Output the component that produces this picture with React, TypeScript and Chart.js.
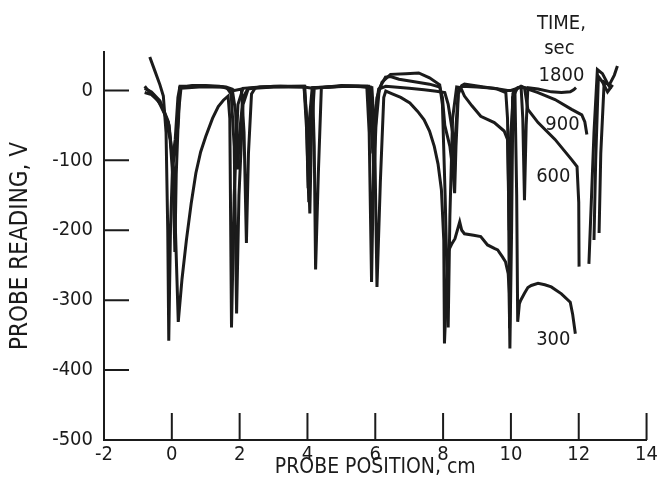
import React, { useEffect, useRef } from 'react';
import { Chart, registerables } from 'chart.js';

Chart.register(...registerables);

const FONT = "'Liberation Sans Narrow', 'DejaVu Sans Condensed', 'Arial Narrow', sans-serif";
const INK = '#1b1b1b';

// axis ticks
const xTickMarks = [0, 2, 4, 6, 8, 10, 12, 14];
const yTickMarks = [-400, -300, -200, -100, 0];

// ---- series: 300 sec ----
const t300X = [-0.8, -0.6, -0.35, -0.1, 0.05, 0.19, 0.3, 0.43, 0.57, 0.71, 0.85, 1.0, 1.2, 1.37, 1.52, 1.66, 1.71, 1.76, 1.84, 1.95, 2.1, 2.6, 3.2, 3.9, 4.15, 4.2, 4.24, 4.32, 4.41, 5.0, 5.5, 5.9, 5.98, 6.05, 6.15, 6.25, 6.31, 6.5, 6.75, 7.02, 7.25, 7.44, 7.6, 7.74, 7.85, 7.95, 8.02, 8.04, 8.1, 8.15, 8.25, 8.35, 8.45, 8.49, 8.55, 8.63, 8.9, 9.11, 9.31, 9.51, 9.61, 9.75, 9.84, 9.92, 9.95, 9.97, 10.02, 10.06, 10.12, 10.17, 10.2, 10.25, 10.29, 10.4, 10.5, 10.6, 10.8, 11.0, 11.19, 11.49, 11.75, 11.82, 11.9];
const t300Y = [3, -2, -15, -45, -110, -331, -270, -214, -162, -118, -88, -66, -40, -23, -14, -8, -40, -339, -150, -20, 3, 5, 6, 5, 3, -80, -256, -120, 4, 6, 6, 4, -60, -281, -130, -10, -1, -5, -10, -18, -30, -42, -58, -80, -105, -142, -214, -362, -290, -230, -220, -212, -195, -188, -200, -205, -207, -209, -221, -226, -228, -238, -245, -262, -290, -369, -200, -5, -5, -150, -331, -305, -300, -290, -282, -279, -276, -278, -281, -291, -303, -320, -348];

// ---- series: 600 sec ----
const t600X = [-0.65, -0.5, -0.35, -0.25, -0.17, -0.12, -0.09, -0.04, 0.02, 0.12, 0.2, 0.23, 0.6, 1.0, 1.4, 1.62, 1.75, 1.84, 1.91, 1.98, 2.1, 2.25, 2.6, 3.9, 3.98, 4.07, 4.12, 4.2, 5.0, 5.75, 5.82, 5.89, 5.95, 6.05, 6.2, 6.45, 6.9, 7.28, 7.6, 7.9, 7.98, 8.06, 8.15, 8.2, 8.28, 8.4, 8.52, 8.63, 8.85, 9.11, 9.51, 9.8, 9.9, 9.93, 9.96, 10.0, 10.05, 10.2, 10.4, 10.5, 10.8, 11.3, 11.79, 11.95, 12.0, 12.01, 12.15, 12.3, 12.45, 12.55, 12.7, 12.85, 12.95];
const t600Y = [48, 28, 8, -8, -60, -200, -358, -200, -110, -80, -40, 4, 7, 7, 6, 4, -5, -80, -319, -150, -20, 2, 5, 6, -40, -176, -60, 3, 7, 6, -60, -274, -110, -10, 12, 23, 24, 25, 18, 8, -20, -150, -339, -180, -40, 5, 4, -8, -22, -37, -46, -58, -70, -150, -340, -150, -10, 4, 4, -27, -46, -70, -99, -109, -160, -252, null, -248, -60, 30, 24, 10, 2];

// ---- series: 900 sec ----
const t900X = [-0.8, -0.6, -0.4, -0.2, -0.05, 0.04, 0.09, 0.13, 0.2, 0.27, 0.8, 1.5, 1.7, 1.85, 2.05, 2.13, 2.2, 2.26, 2.35, 2.45, 3.0, 3.9, 3.98, 4.04, 4.1, 4.18, 5.2, 5.85, 5.9, 5.96, 6.02, 6.12, 6.3, 6.45, 6.7, 7.2, 7.6, 7.9, 7.98, 8.05, 8.2, 8.3, 8.34, 8.38, 8.45, 8.55, 8.63, 9.2, 9.6, 9.85, 9.9, 9.95, 10.0, 10.08, 10.3, 10.5, 10.8, 11.3, 11.79, 12.09, 12.18, 12.24, 12.35, 12.45, 12.5, 12.58, 12.7, 12.85, 13.0];
const t900Y = [-3, -6, -15, -35, -70, -130, -231, -120, -30, 3, 5, 5, 2, 0, 2, -60, -218, -90, -5, 3, 5, 5, -60, -160, -40, 4, 6, 5, -40, -123, -50, 3, 19, 20, 16, 12, 9, 5, -10, -50, -80, -120, -147, -80, -5, 7, 9, 5, 2, -3, -40, -200, -60, 0, 6, 2, -3, -13, -27, -35, -45, -63, null, -214, -100, 20, 12, -2, 8];

// ---- series: 1800 sec ----
const t1800X = [-0.8, -0.72, -0.55, -0.3, -0.08, 0.02, 0.1, 0.18, 0.24, 1.0, 1.6, 1.78, 1.88, 1.94, 2.0, 2.1, 2.25, 3.0, 3.92, 3.97, 4.02, 4.06, 4.14, 5.0, 5.8, 5.85, 5.93, 6.0, 6.1, 6.31, 7.0, 7.44, 7.8, 8.05, 8.15, 8.28, 8.33, 8.37, 8.45, 8.55, 9.0, 9.5, 9.9, 10.0, 10.3, 10.35, 10.4, 10.45, 10.5, 10.8, 11.19, 11.49, 11.75, 11.85, 11.92, 12.2, 12.6, 12.65, 12.75, 12.9, 13.05, 13.14];
const t1800Y = [6, 1, -6, -22, -50, -100, -70, -10, 6, 6, 5, 2, -30, -113, -60, -10, 3, 6, 6, -40, -140, -40, 4, 6, 6, -30, -90, -30, 2, 6, 3, 1, -1, -3, -20, -60, -130, -60, 0, 6, 5, 3, 0, 0, 5, -40, -157, -50, 4, 2, -2, -3, -2, 1, 4, null, -204, -90, 12, 8, 22, 35];

// ---- in-plot annotations (data coordinates) ----
const noteText = ['TIME,', 'sec', '1800', '900', '600', '300'];
const noteX = [11.49, 11.43, 11.49, 11.52, 11.25, 11.25];
const noteY = [96, 60, 21.5, -49, -124, -356];

const pts = (xs: number[], ys: (number | null)[]) => xs.map((x, i) => ({ x, y: ys[i] }));

const inwardTicks = {
  id: 'inwardTicks',
  afterDraw(chart: any) {
    const { ctx, chartArea, scales } = chart;
    const xs = scales.x;
    const ys = scales.y;
    ctx.save();
    ctx.strokeStyle = INK;
    ctx.lineWidth = 2;
    ctx.beginPath();
    for (const v of xTickMarks) {
      const px = xs.getPixelForValue(v);
      ctx.moveTo(px, chartArea.bottom);
      ctx.lineTo(px, chartArea.bottom - 27);
    }
    for (const v of yTickMarks) {
      const py = ys.getPixelForValue(v);
      ctx.moveTo(chartArea.left, py);
      ctx.lineTo(chartArea.left + 25, py);
    }
    ctx.stroke();
    ctx.restore();
  },
};

const notes = {
  id: 'notes',
  afterDraw(chart: any) {
    const { ctx, scales } = chart;
    ctx.save();
    ctx.fillStyle = INK;
    ctx.font = `20px ${FONT}`;
    ctx.textAlign = 'center';
    ctx.textBaseline = 'middle';
    noteText.forEach((t, i) => {
      ctx.fillText(t, scales.x.getPixelForValue(noteX[i]), scales.y.getPixelForValue(noteY[i]));
    });
    ctx.restore();
  },
};

export default function App() {
  const ref = useRef<HTMLCanvasElement>(null);
  useEffect(() => {
    const series = [
      pts(t300X, t300Y),
      pts(t600X, t600Y),
      pts(t900X, t900Y),
      pts(t1800X, t1800Y),
    ];
    const chart = new Chart(ref.current as HTMLCanvasElement, {
      type: 'line',
      data: {
        datasets: series.map((d, i) => ({
          label: ['300', '600', '900', '1800'][i],
          data: d as any,
          borderColor: INK,
          borderWidth: 3,
          pointRadius: 0,
          tension: 0,
          spanGaps: false,
          fill: false,
        })),
      },
      options: {
        animation: false,
        responsive: false,
        layout: { padding: { left: 0, right: 14, top: 52, bottom: 0 } },
        plugins: { legend: { display: false }, tooltip: { enabled: false } },
        scales: {
          x: {
            type: 'linear',
            min: -2,
            max: 14,
            grid: { display: false, drawTicks: false },
            border: { color: INK, width: 2 },
            ticks: { stepSize: 2, color: INK, font: { family: FONT, size: 20 }, padding: 3, maxRotation: 0 },
            title: { display: true, text: 'PROBE POSITION, cm', color: INK, font: { family: FONT, size: 21 }, padding: { top: 0, bottom: 10 } },
            afterFit: (s: any) => { s.height = 50; },
          },
          y: {
            type: 'linear',
            min: -500,
            max: 55,
            grid: { display: false, drawTicks: false },
            border: { color: INK, width: 2 },
            ticks: { stepSize: 100, includeBounds: false, color: INK, font: { family: FONT, size: 20 }, padding: 11 },
            title: { display: true, text: 'PROBE READING, V', color: INK, font: { family: FONT, size: 24 }, padding: { top: 6, bottom: 0 } },
            afterFit: (s: any) => { s.width = 104; },
          },
        },
      },
      plugins: [inwardTicks, notes],
    });
    return () => chart.destroy();
  }, []);
  return (
    <div style={{ position: 'fixed', left: 0, top: 0, width: 661, height: 490, background: '#fff' }}>
      <canvas ref={ref} width={661} height={490} />
    </div>
  );
}
